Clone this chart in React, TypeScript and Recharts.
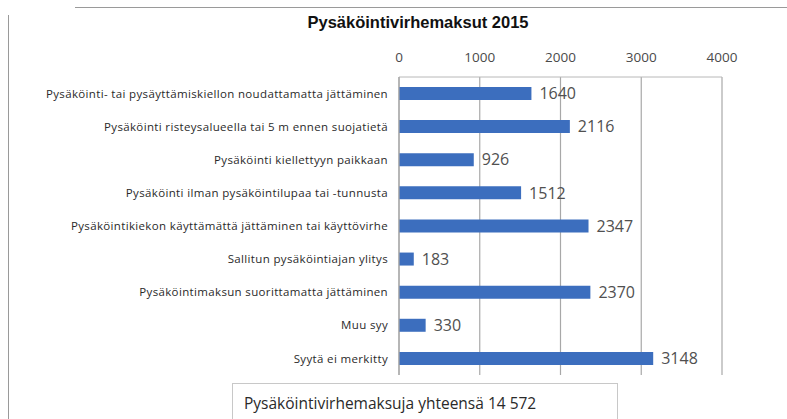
import { BarChart, Bar, XAxis, YAxis, CartesianGrid, LabelList } from 'recharts';

const categories = [
  'Pysäköinti- tai pysäyttämiskiellon noudattamatta jättäminen',
  'Pysäköinti risteysalueella tai 5 m ennen suojatietä',
  'Pysäköinti kiellettyyn paikkaan',
  'Pysäköinti ilman pysäköintilupaa tai -tunnusta',
  'Pysäköintikiekon käyttämättä jättäminen tai käyttövirhe',
  'Sallitun pysäköintiajan ylitys',
  'Pysäköintimaksun suorittamatta jättäminen',
  'Muu syy',
  'Syytä ei merkitty',
];
const values = [1640, 2116, 926, 1512, 2347, 183, 2370, 330, 3148];
const xTicks = [0, 1000, 2000, 3000, 4000];

const title = 'Pysäköintivirhemaksut 2015';
const totalText = 'Pysäköintivirhemaksuja yhteensä 14 572';

const data = categories.map((name, i) => ({ name, value: values[i] }));

const FONT = '"Open Sans", "DejaVu Sans", sans-serif';

const App = () => {
  return (
    <div
      style={{
        position: 'fixed',
        left: 0,
        top: 0,
        width: 787,
        height: 419,
        background: '#fff',
        fontFamily: FONT,
        overflow: 'hidden',
      }}
    >
      {/* frame lines */}
      <div style={{ position: 'absolute', left: 75, top: 7, width: 712, height: 0, borderTop: '1.5px solid #9a9a9a' }} />
      <div style={{ position: 'absolute', left: 8, top: 15, width: 0, height: 404, borderLeft: '1.5px solid #9a9a9a' }} />

      <div
        style={{
          position: 'absolute',
          left: 0,
          width: 836,
          top: 13,
          textAlign: 'center',
          fontFamily: '"Liberation Sans", Arial, sans-serif',
          fontWeight: 'bold',
          fontSize: 16.5,
          color: '#111',
        }}
      >
        {title}
      </div>

      <BarChart
        width={787}
        height={419}
        data={data}
        layout="vertical"
        margin={{ top: 47, right: 65, bottom: 44, left: 0 }}
        barCategoryGap={0}
      >
        <CartesianGrid horizontal={false} vertical={true} stroke="#a8a8a8" strokeWidth={1.2} />
        <XAxis
          type="number"
          orientation="top"
          domain={[0, 4000]}
          ticks={xTicks}
          height={30}
          tickLine={false}
          axisLine={{ stroke: '#b8b8b8' }}
          tick={{ fontSize: 13.5, fill: '#4a4a4a', fontFamily: FONT }}
          tickMargin={9}
        />
        <YAxis
          type="category"
          dataKey="name"
          width={399}
          tickLine={false}
          axisLine={{ stroke: '#a8a8a8', strokeWidth: 1.2 }}
          tickSize={6}
          tickMargin={5}
          interval={0}
          tick={{ fontSize: 11.5, fill: '#2a2a2a', fontFamily: FONT, letterSpacing: 0.35 }}
        />
        <Bar dataKey="value" fill="#3C6EBE" barSize={13} isAnimationActive={false}>
          <LabelList
            dataKey="value"
            position="right"
            offset={8}
            fill="#505050"
            fontSize={16}
            fontFamily={FONT}
          />
        </Bar>
      </BarChart>

      <div
        style={{
          position: 'absolute',
          left: 232,
          top: 383,
          width: 386,
          height: 40,
          border: '1px solid #c8c8c8',
          boxSizing: 'border-box',
          paddingLeft: 11,
          paddingTop: 8,
          fontSize: 15.5,
          color: '#2a2a2a',
          fontFamily: FONT,
          background: '#fff',
        }}
      >
        {totalText}
      </div>
    </div>
  );
};

export default App;
